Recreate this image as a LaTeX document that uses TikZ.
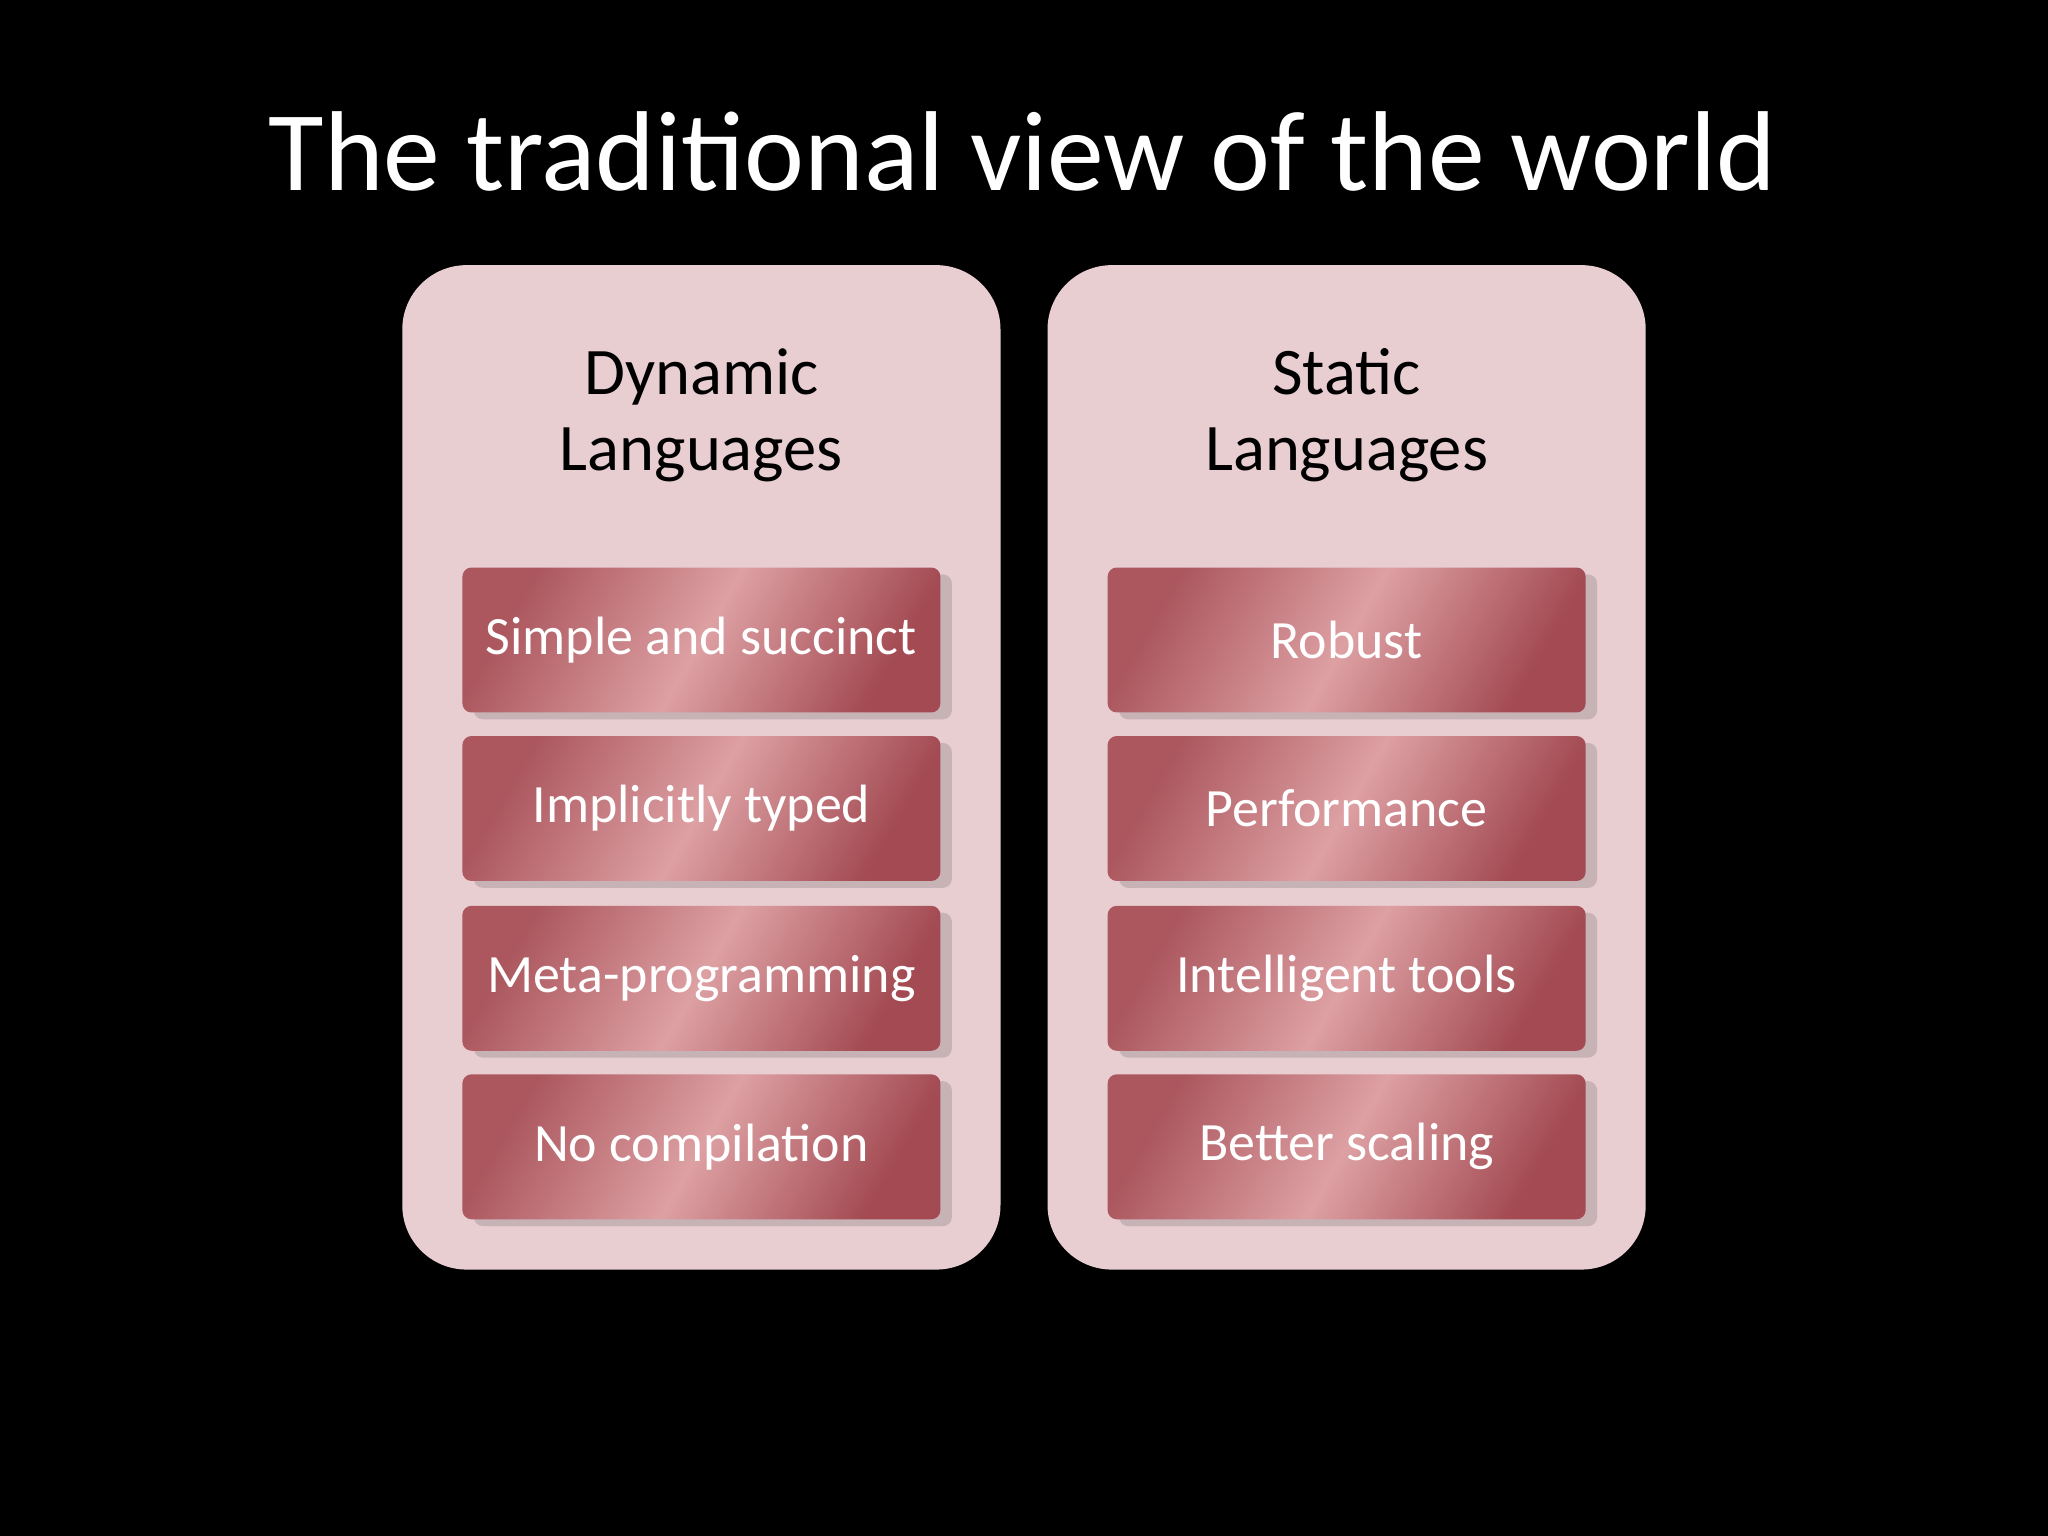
\documentclass[tikz,border=0pt]{standalone}
\usepackage{fontspec}
\setmainfont{Carlito}
\usetikzlibrary{shadows}
\definecolor{panel}{HTML}{E8CDD1}
\definecolor{redA}{HTML}{A34A52}
\definecolor{redB}{HTML}{DDA0A3}
\tikzset{
  itembox/.style={rounded corners=4pt, minimum width=366*0.02cm, minimum height=111*0.02cm,
    shading=axis, left color=redA!85!redB, right color=redA, middle color=redB, shading angle=60,
    drop shadow={shadow xshift=5pt, shadow yshift=-3pt, opacity=0.25, fill=black!60},
    text=white, font=\fontsize{23.5}{28}\selectfont, inner sep=0pt},
  head/.style={align=center, font=\fontsize{29}{33}\selectfont, text=black}
}
\begin{document}
\begin{tikzpicture}[x=0.02cm,y=-0.02cm]
\fill[black] (0,0) rectangle (1568,1176);
\useasboundingbox (0,0) rectangle (1568,1176);
\node[text=white, font=\fontsize{49.5}{54}\selectfont] (title) at (783,116) {The traditional view of the world};
\fill[panel, rounded corners=28pt] (308,203) rectangle (766,972);
\fill[panel, rounded corners=28pt] (802,203) rectangle (1260,972);
\node[head] (hl) at (537,318) {Dynamic\\Languages};
\node[head] (hr) at (1031,318) {Static\\Languages};
\node[itembox] (l1) at (537,490) {Simple and succinct};
\node[itembox] (l2) at (537,619) {Implicitly typed};
\node[itembox] (l3) at (537,749) {Meta-programming};
\node[itembox] (l4) at (537,878) {No compilation};
\node[itembox] (r1) at (1031,490) {Robust};
\node[itembox] (r2) at (1031,619) {Performance};
\node[itembox] (r3) at (1031,749) {Intelligent tools};
\node[itembox] (r4) at (1031,878) {Better scaling};
\end{tikzpicture}
\end{document}
